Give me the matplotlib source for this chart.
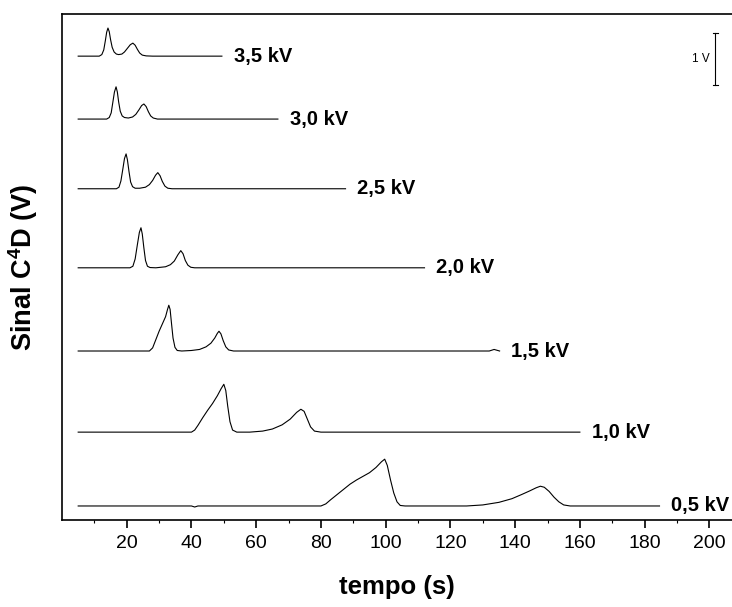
import matplotlib
matplotlib.use("Agg")
import matplotlib.pyplot as plt

plt.rcParams['font.family'] = ['Liberation Sans', 'DejaVu Sans']
plt.rcParams['mathtext.fontset'] = 'custom'
plt.rcParams['mathtext.rm'] = 'Liberation Sans'
plt.rcParams['mathtext.bf'] = 'Liberation Sans:bold'

# ---- data (time in s, signal in V above each trace's baseline) ----
labels = ["3,5 kV", "3,0 kV", "2,5 kV", "2,0 kV", "1,5 kV", "1,0 kV", "0,5 kV"]
baselines = [8.92, 7.71, 6.37, 4.85, 3.25, 1.69, 0.27]

t_35 = [5, 11.5, 12.3, 12.9, 13.4, 13.8, 14.2, 14.6, 15.0, 15.5, 16.1, 16.8, 17.5, 18.5, 19.3,
        20.2, 21.1, 21.9, 22.6, 23.3, 24.0, 24.8, 26, 28, 49.4]
s_35 = [0, 0, 0.03, 0.12, 0.3, 0.46, 0.54, 0.47, 0.32, 0.17, 0.08, 0.04, 0.03, 0.04, 0.08,
        0.15, 0.22, 0.25, 0.21, 0.13, 0.06, 0.02, 0.005, 0, 0]

t_30 = [5, 13.8, 14.6, 15.2, 15.7, 16.2, 16.7, 17.1, 17.5, 18.0, 18.6, 19.3, 20.5, 21.8, 22.8,
        23.8, 24.6, 25.3, 26.0, 26.7, 27.4, 28.2, 29.5, 66.7]
s_30 = [0, 0, 0.03, 0.12, 0.32, 0.52, 0.62, 0.52, 0.33, 0.15, 0.06, 0.03, 0.02, 0.04, 0.09,
        0.18, 0.26, 0.29, 0.24, 0.14, 0.06, 0.02, 0, 0]

t_25 = [5, 16.8, 17.6, 18.2, 18.8, 19.3, 19.8, 20.2, 20.7, 21.2, 21.8, 22.6, 24, 25.8, 27,
        28, 28.9, 29.6, 30.3, 31, 31.8, 32.7, 34, 87.6]
s_25 = [0, 0, 0.03, 0.15, 0.38, 0.58, 0.67, 0.56, 0.33, 0.13, 0.04, 0.01, 0.01, 0.03, 0.08,
        0.16, 0.26, 0.31, 0.25, 0.14, 0.05, 0.01, 0, 0]

t_20 = [5, 21, 21.9, 22.6, 23.3, 23.9, 24.4, 24.8, 25.3, 25.8, 26.4, 27.2, 29, 32, 33.5,
        34.7, 35.8, 36.7, 37.4, 38.1, 38.9, 39.8, 41, 112]
s_20 = [0, 0, 0.03, 0.17, 0.45, 0.68, 0.77, 0.65, 0.38, 0.14, 0.03, 0.005, 0, 0.02, 0.06,
        0.13, 0.25, 0.33, 0.27, 0.14, 0.05, 0.01, 0, 0]

t_15 = [5, 27, 28, 29, 30, 31, 32, 32.6, 33, 33.4, 33.8, 34.3, 34.9, 35.6, 37, 40, 42.5,
        44.5, 46, 47.2, 48, 48.5, 49.1, 49.8, 50.6, 51.5, 53, 132, 133.5, 135.2]
s_15 = [0, 0, 0.06, 0.22, 0.38, 0.52, 0.66, 0.8, 0.88, 0.8, 0.55, 0.25, 0.07, 0.01, 0, 0.01, 0.03,
        0.08, 0.15, 0.25, 0.34, 0.38, 0.33, 0.2, 0.08, 0.02, 0, 0, 0.03, 0]

t_10 = [5, 40, 41, 42, 43.5, 45, 46.5, 48, 49.2, 50, 50.6, 51.2, 51.9, 52.7, 54, 58, 62, 65,
        68, 70.5, 72.5, 73.8, 74.8, 75.8, 76.8, 78, 80, 160]
s_10 = [0, 0, 0.04, 0.13, 0.28, 0.42, 0.55, 0.7, 0.84, 0.92, 0.8, 0.5, 0.2, 0.04, 0, 0, 0.02, 0.06,
        0.14, 0.25, 0.38, 0.44, 0.4, 0.25, 0.1, 0.02, 0, 0]

t_05 = [5, 40, 41, 42, 80, 81.5, 83, 85, 87, 89, 91, 93, 95, 97, 98.7, 99.7, 100.5, 101.5,
        102.5, 103.5, 104.5, 106, 115, 125, 130, 135, 139, 142, 144.5, 146.5, 147.8, 149,
        150.5, 152, 153.5, 155, 157, 184.6]
s_05 = [0, 0, -0.02, 0, 0, 0.04, 0.12, 0.22, 0.32, 0.42, 0.5, 0.57, 0.64, 0.74, 0.85, 0.9, 0.78, 0.5,
        0.25, 0.08, 0.01, 0, 0, 0, 0.02, 0.07, 0.14, 0.22, 0.29, 0.35, 0.38, 0.36,
        0.28, 0.17, 0.08, 0.02, 0, 0]

times = [t_35, t_30, t_25, t_20, t_15, t_10, t_05]
signals = [s_35, s_30, s_25, s_20, s_15, s_10, s_05]

x_ticks = [20, 40, 60, 80, 100, 120, 140, 160, 180, 200]
scale_bar_volts = 1.0

# ---- figure ----
fig = plt.figure(figsize=(7.32, 6.07), dpi=100)
ax = fig.add_axes([0.0847, 0.1433, 0.9153, 0.8336])

for t, s, b, lab in zip(times, signals, baselines, labels):
    ax.plot(t, [b + v for v in s], color='black', lw=0.8)
    ax.text(t[-1] + 3.6, b, lab, fontsize=14.5, fontweight='bold',
            va='center', ha='left', clip_on=False)

# scale bar
sb_x = 201.9
sb_y0 = 8.37
ax.plot([sb_x, sb_x], [sb_y0, sb_y0 + scale_bar_volts], color='black', lw=0.8)
ax.plot([sb_x - 0.9, sb_x + 0.9], [sb_y0, sb_y0], color='black', lw=0.8)
ax.plot([sb_x - 0.9, sb_x + 0.9], [sb_y0 + scale_bar_volts] * 2, color='black', lw=0.8)
ax.text(sb_x - 1.8, sb_y0 + scale_bar_volts / 2, "1 V", fontsize=8.5,
        ha='right', va='center')

ax.set_xlim(0, 207)
ax.set_ylim(0, 9.73)
ax.set_xticks(x_ticks)
ax.set_xticks([10, 30, 50, 70, 90, 110, 130, 150, 170, 190], minor=True)
ax.set_yticks([])
ax.spines['right'].set_visible(False)
for sp in ['left', 'top', 'bottom']:
    ax.spines[sp].set_linewidth(1.2)
ax.tick_params(axis='x', which='major', direction='out', length=6, width=1.2,
               labelsize=14, pad=5)
ax.tick_params(axis='x', which='minor', direction='out', length=2.5, width=0.8)

ax.set_xlabel("tempo (s)", fontsize=18.5, fontweight='bold', labelpad=16)
ax.set_ylabel(r"Sinal C$^\mathbf{4}$D (V)", fontsize=19.5, fontweight='bold', labelpad=16)

fig.savefig("out.png", dpi=100)
